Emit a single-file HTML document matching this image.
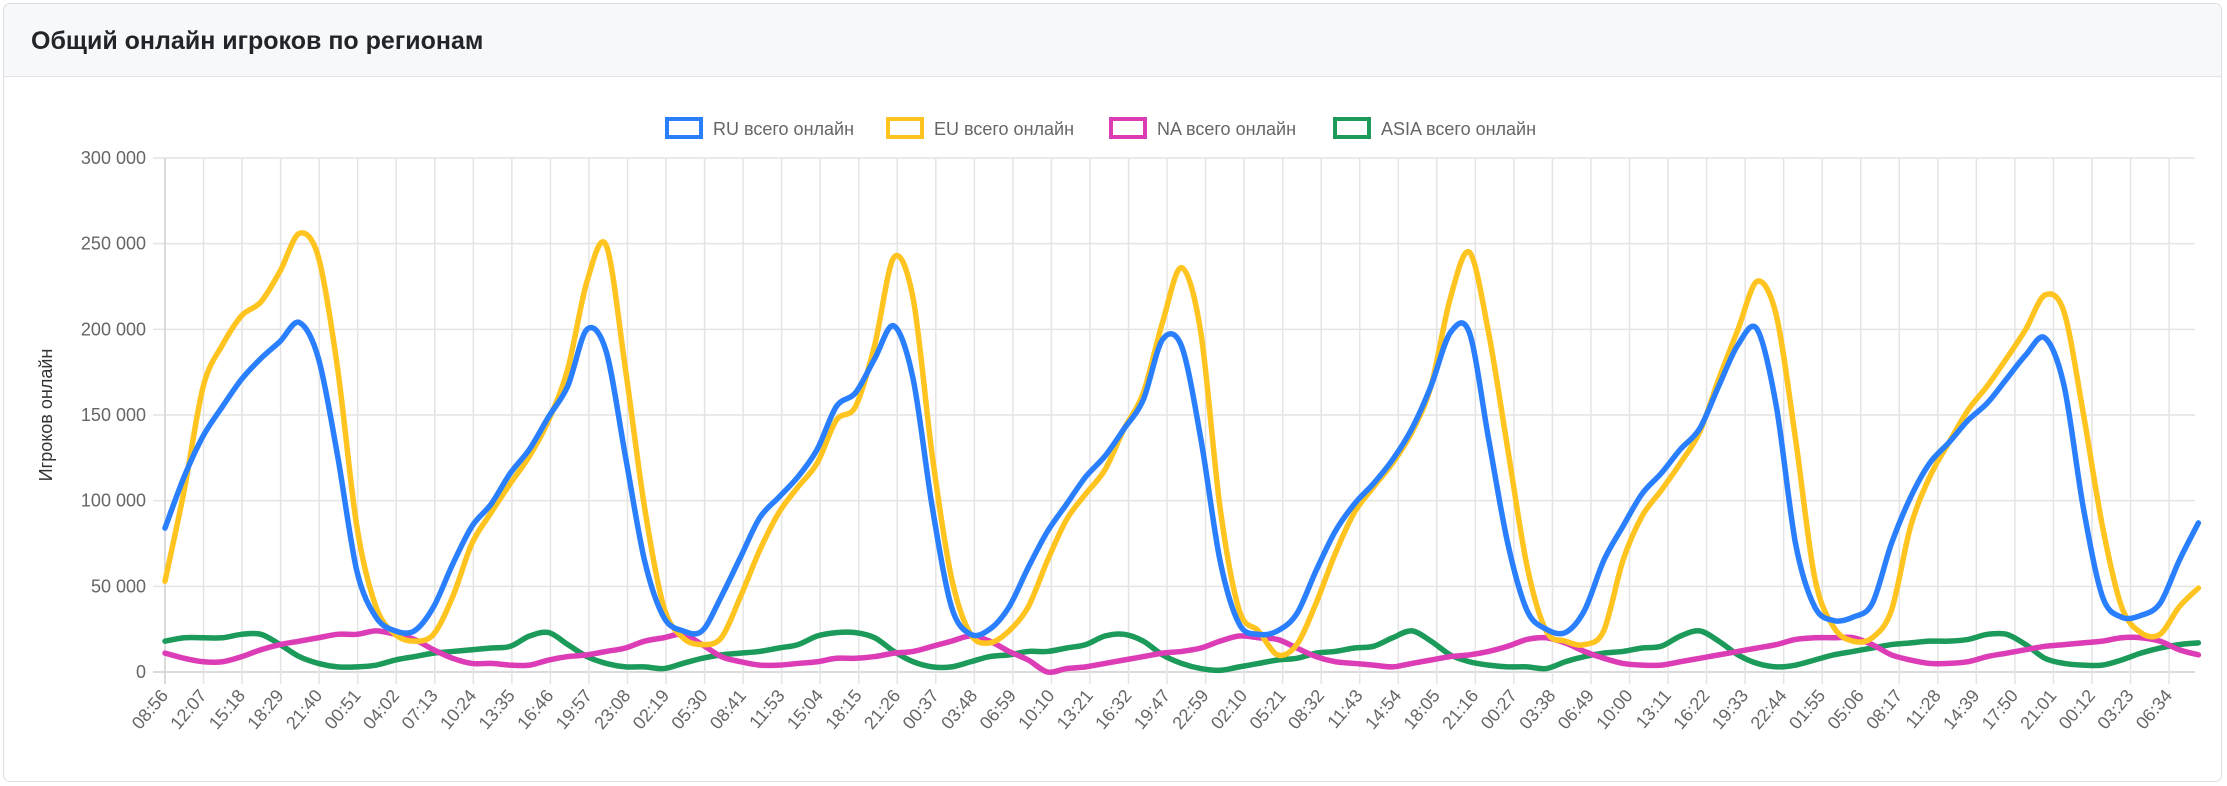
<!DOCTYPE html>
<html><head><meta charset="utf-8">
<style>
html,body{margin:0;padding:0;background:#fff;}
body{width:2227px;height:786px;position:relative;overflow:hidden;font-family:"Liberation Sans","Noto Sans CJK SC",sans-serif;}
.card{position:absolute;left:3px;top:3px;width:2217px;height:777px;border:1px solid #dcdfe3;border-radius:7px;overflow:hidden;background:#fff;}
.hdr{position:absolute;left:0;top:0;right:0;height:72px;background:#f7f8fa;border-bottom:1px solid #e1e3e6;}
.hdr h5{margin:0;position:absolute;left:27px;top:23px;font-size:25px;font-weight:bold;color:#212529;}
svg{position:absolute;left:0;top:0;}
</style></head><body>
<div class="card">
<div class="hdr"><h5>Общий онлайн игроков по регионам</h5></div>
</div>
<svg id="chart" width="2227" height="786"></svg>
<script>
const xLabels=["08:56","12:07","15:18","18:29","21:40","00:51","04:02","07:13","10:24","13:35","16:46","19:57","23:08","02:19","05:30","08:41","11:53","15:04","18:15","21:26","00:37","03:48","06:59","10:10","13:21","16:32","19:47","22:59","02:10","05:21","08:32","11:43","14:54","18:05","21:16","00:27","03:38","06:49","10:00","13:11","16:22","19:33","22:44","01:55","05:06","08:17","11:28","14:39","17:50","21:01","00:12","03:23","06:34"];
const yTicks=[0,50000,100000,150000,200000,250000,300000];
const yTickLabels=["0","50 000","100 000","150 000","200 000","250 000","300 000"];
const seriesNames=["RU всего онлайн","EU всего онлайн","NA всего онлайн","ASIA всего онлайн"];
const dataSpanTicks=52.76;
const ruK=[84,114,138,155,171,183,193,204,183,126, 59,32,24,24,38,63,85,98,116,130, 149,167,200,187,126,65,32,24,24,44, 67,90,102,114,130,155,163,183,202,171, 96,38,22,25,38,61,82,98,114,126, 142,159,194,190,136,65,28,22,24,34, 59,82,98,110,124,142,167,198,198,136, 75,36,25,23,36,65,85,104,116,130, 142,167,191,200,155,75,38,30,32,40, 75,102,122,134,147,157,171,185,195,167, 96,44,32,33,40,65,87];
const euK=[53,106,167,191,208,216,234,256,242,177, 85,38,22,18,22,44,75,93,110,126, 147,177,228,249,177,96,38,20,16,20, 44,71,93,108,122,147,155,191,242,218, 126,55,22,17,24,38,65,89,104,118, 142,163,204,236,198,96,36,24,10,16, 40,69,93,108,122,140,167,218,245,198, 130,62,24,18,16,24,65,91,106,122, 140,171,200,228,208,136,55,26,18,20, 36,85,114,134,153,167,183,200,220,210, 151,85,38,23,22,38,49];
const naK=[11,8,6,6,9,13,16,18,20,22, 22,24,22,19,13,8,5,5,4,4, 7,9,10,12,14,18,20,22,16,9, 6,4,4,5,6,8,8,9,11,12, 15,18,21,18,12,7,0,2,3,5, 7,9,11,12,14,18,21,20,19,14, 9,6,5,4,3,5,7,9,10,12, 15,19,20,17,12,8,5,4,4,6, 8,10,12,14,16,19,20,20,20,16, 10,7,5,5,6,9,11,13,15,16, 17,18,20,20,18,13,10];
const asiaK=[18,20,20,20,22,22,16,9,5,3, 3,4,7,9,11,12,13,14,15,21, 23,16,9,5,3,3,2,5,8,10, 11,12,14,16,21,23,23,20,12,6, 3,3,6,9,10,12,12,14,16,21, 22,18,10,5,2,1,3,5,7,8, 11,12,14,15,20,24,18,10,6,4, 3,3,2,6,9,11,12,14,15,21, 24,18,10,5,3,4,7,10,12,14, 16,17,18,18,19,22,22,16,8,5, 4,4,7,11,14,16,17];
const colors=["#2a7fff","#ffc41f","#dc3cb6","#1b9a5a"];

const svg=document.getElementById('chart');
const NS="http://www.w3.org/2000/svg";
const X0=165,Y0=672,YT=158,tickStep=38.54,YMAX=300000,XEND=2195;
function yPos(v){return Y0-(v/YMAX)*(Y0-YT);}
function xTick(i){return X0+i*tickStep;}
function xData(i,n){return X0+(i/(n-1))*dataSpanTicks*tickStep;}
function mk(tag,attrs){const e=document.createElementNS(NS,tag);for(const k in attrs)e.setAttribute(k,attrs[k]);svg.appendChild(e);return e;}

yTicks.forEach((t,i)=>{
  const g=mk('line',{x1:X0-12,x2:XEND,y1:yPos(t),y2:yPos(t),stroke:i===0?'#cfcfcf':'#e4e4e4','stroke-width':1.5});
  
  
  const tx=mk('text',{x:X0-19,y:yPos(t)+6,'text-anchor':'end','font-size':18,fill:'#666','font-family':'Liberation Sans, sans-serif'});
  tx.textContent=yTickLabels[i];
  
  
});
xLabels.forEach((l,i)=>{
  const x=xTick(i);
  const g=mk('line',{x1:x,x2:x,y1:YT,y2:Y0+12,stroke:i===0?'#cfcfcf':'#e4e4e4','stroke-width':1.5});
  
  
  const tx=mk('text',{x:x+4,y:Y0+24,'text-anchor':'end','font-size':18,fill:'#666','font-family':'Liberation Sans, sans-serif',transform:`rotate(-50 ${x+4} ${Y0+24})`});
  tx.textContent=l;
  
  
});
const yt=mk('text',{x:52,y:415,'text-anchor':'middle','font-size':18,fill:'#333','font-family':'Liberation Sans, sans-serif',transform:'rotate(-90 52 415)'});
yt.textContent='Игроков онлайн';



function pathFor(arr){
  const n=arr.length;const p=arr.map((v,i)=>[xData(i,n),yPos(v*1000)]);
  let d=`M${p[0][0]},${p[0][1]}`;
  for(let i=0;i<n-1;i++){
    const p0=p[Math.max(0,i-1)],p1=p[i],p2=p[i+1],p3=p[Math.min(n-1,i+2)];
    const t=0.16;
    const c1=[p1[0]+(p2[0]-p0[0])*t,p1[1]+(p2[1]-p0[1])*t];
    const c2=[p2[0]-(p3[0]-p1[0])*t,p2[1]-(p3[1]-p1[1])*t];
    d+=`C${c1[0]},${c1[1]} ${c2[0]},${c2[1]} ${p2[0]},${p2[1]}`;
  }
  return d;
}
const data=[ruK,euK,naK,asiaK];
const lineNames=['ru-line','eu-line','na-line','asia-line'];
for(let s=3;s>=0;s--){
  const pth=mk('path',{d:pathFor(data[s]),fill:'none',stroke:colors[s],'stroke-width':5.5,'stroke-linejoin':'round','stroke-linecap':'round'});
  
  
}
const legX=[665,886,1109,1333];
const legendNames=['legend-ru','legend-eu','legend-na','legend-asia'];
seriesNames.forEach((nm,i)=>{
  const r=mk('rect',{x:legX[i]+2,y:119,width:34,height:18,fill:'#fff',stroke:colors[i],'stroke-width':4});
  
  
  const tx=mk('text',{x:legX[i]+48,y:135,'font-size':18,fill:'#666','font-family':'Liberation Sans, sans-serif'});
  tx.textContent=nm;
  
  
});
</script>
</body></html>
